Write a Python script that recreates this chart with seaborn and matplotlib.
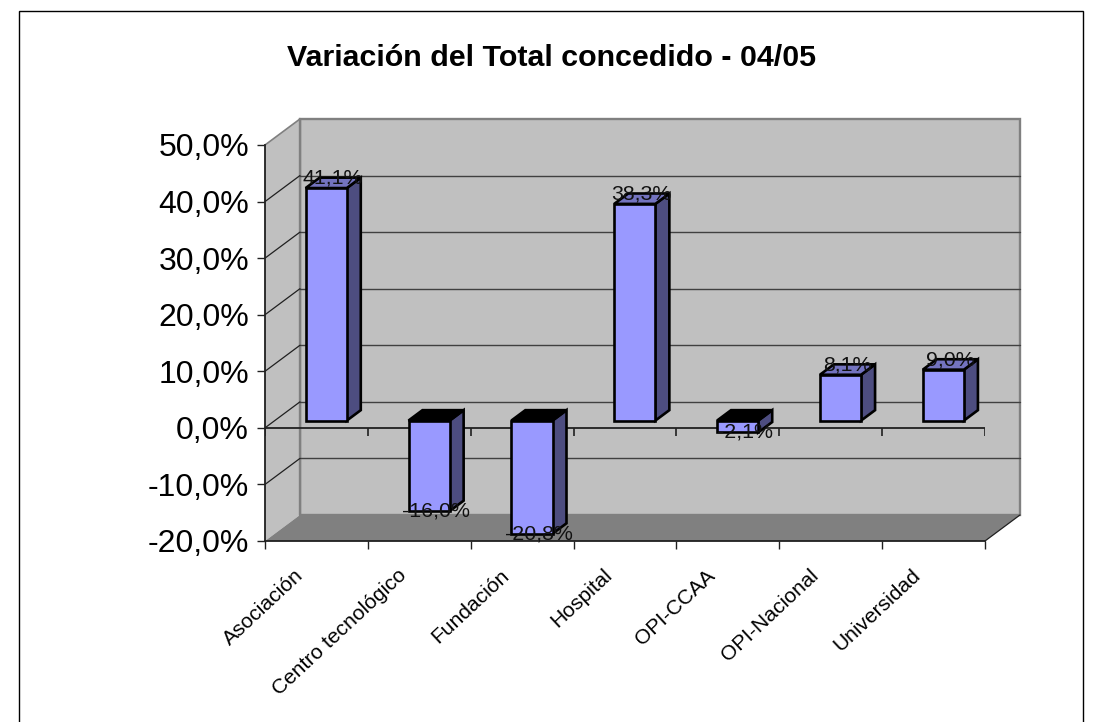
# Import libraries
import matplotlib
matplotlib.use('Agg')
import matplotlib.pyplot as plt
from matplotlib.patches import Polygon, Rectangle
from matplotlib.ticker import FixedLocator
from matplotlib.transforms import Affine2D
import numpy as np
import seaborn as sns

# Define data
categories = ['Asociación', 'Centro tecnológico', 'Fundación', 'Hospital',
              'OPI-CCAA', 'OPI-Nacional', 'Universidad']
values = [41.1, -16.0, -20.8, 38.3, -2.1, 8.1, 9.0]
y_ticks = [-20, -10, 0, 10, 20, 30, 40, 50]
title = 'Variación del Total concedido - 04/05'

# Fake 3D depth in data units
depth_x = 0.34
depth_y = 4.6
bar_front = 0.28
bar_back = 0.68

sns.set_theme(style='white')
plt.rcParams['font.family'] = ['Liberation Sans', 'DejaVu Sans']

fig = plt.figure(figsize=(11.04, 7.22), dpi=100)
ax = fig.add_axes([265 / 1104, (722 - 541) / 722, 720 / 1104, 396 / 722])
ax.patch.set_visible(False)


def proj(x, y, d):
    return (x + depth_x * d, y + depth_y * d)


def face(points, d_values, **kw):
    verts = [proj(x, y, d) for (x, y), d in zip(points, d_values)]
    ax.add_patch(Polygon(verts, closed=True, clip_on=False, **kw))


# Bars are clipped at the axis minimum, labels keep the real value
plot_values = np.clip(values, y_ticks[0], y_ticks[-1])
sns.barplot(x=categories, y=plot_values, ax=ax, width=0.40, color='#9999FF',
            saturation=1, edgecolor='black', linewidth=1.9, zorder=5)

x0, x1 = -0.5, 6.5
y0, y1 = y_ticks[0], y_ticks[-1]
ax.set_xlim(x0, x1)
ax.set_ylim(y0, y1)

# Walls and floor
face([(x0, y0), (x1, y0), (x1, y1), (x0, y1)], [1, 1, 1, 1],
     facecolor='#C0C0C0', edgecolor='#808080', linewidth=1.7, zorder=1)
face([(x0, y0), (x0, y0), (x0, y1), (x0, y1)], [0, 1, 1, 0],
     facecolor='#C0C0C0', edgecolor='none', zorder=1)
face([(x0, y0), (x0, y0), (x1, y0), (x1, y0)], [0, 1, 1, 0],
     facecolor='#808080', edgecolor='none', zorder=2)
ax.plot(*zip(proj(x0, y1, 0), proj(x0, y1, 1)), color='#808080', lw=1.2,
        zorder=2, clip_on=False)
ax.plot(*zip(proj(x0, y0, 1), proj(x0, y1, 1)), color='#808080', lw=1.7,
        zorder=2, clip_on=False)
ax.plot(*zip(proj(x1, y0, 0), proj(x1, y0, 1)), color='#202020', lw=0.9,
        zorder=2, clip_on=False)

# Gridlines on the back and side walls
for t in y_ticks[1:-1]:
    ax.plot(*zip(proj(x0, t, 1), proj(x1, t, 1)), color='#404040', lw=1.0,
            zorder=2, clip_on=False)
    ax.plot(*zip(proj(x0, t, 0), proj(x0, t, 1)), color='#202020', lw=0.9,
            zorder=2, clip_on=False)

# Zero line and its ticks
ax.axhline(0, color='#202020', lw=1.3, zorder=3)
ax.vlines(np.arange(x0, x1 + 1), -1.4, 0, color='#202020', lw=1.2, zorder=3)

# Move the seaborn bars back into the chart and give them depth
for bar, val in zip(ax.patches[:len(values)], plot_values):
    bar.set_x(proj(bar.get_x(), 0, bar_front)[0])
    bar.set_y(proj(0, 0, bar_front)[1])
    left = bar.get_x() - depth_x * bar_front
    right = left + bar.get_width()
    base = 0
    side_pts = [(right, base), (right, val), (right, val), (right, base)]
    face(side_pts, [bar_front, bar_front, bar_back, bar_back],
         facecolor='#4D4D80', edgecolor='black', linewidth=1.9, zorder=4)
    top_y = max(val, 0)
    top_pts = [(left, top_y), (right, top_y), (right, top_y), (left, top_y)]
    face(top_pts, [bar_front, bar_front, bar_back, bar_back],
         facecolor='#7373BF' if val > 0 else 'black', edgecolor='black',
         linewidth=1.9, zorder=4)

# Data labels
for i, (val, clipped) in enumerate(zip(values, plot_values)):
    bx, by = proj(i, clipped, bar_front)
    off_y = 10 if val > 0 else 0
    ax.annotate(f'{val:.1f}%'.replace('.', ','), xy=(bx, by),
                xytext=(5, off_y * 0.72), textcoords='offset points',
                ha='center', va='center', fontsize=15.4, color='#111111',
                zorder=8, annotation_clip=False)

# Axes
sns.despine(ax=ax)
for side in ['left', 'bottom']:
    ax.spines[side].set_color('#202020')
    ax.spines[side].set_linewidth(1.3)
    ax.spines[side].set_zorder(6)
ax.set_yticks(y_ticks)
ax.set_yticklabels([f'{t:.1f}%'.replace('.', ',') for t in y_ticks], fontsize=23, color='black')
ax.tick_params(axis='y', left=True, length=6, width=1, color='#202020', pad=5.5)
ax.set_xticks(range(len(categories)))
ax.set_xticklabels(categories, rotation=43, ha='right', va='top',
                   rotation_mode='anchor', fontsize=15.1, color='black')
ax.tick_params(axis='x', which='major', bottom=False, length=0, pad=17)
ax.xaxis.set_minor_locator(FixedLocator(np.arange(x0, x1 + 1)))
ax.tick_params(axis='x', which='minor', bottom=True, length=6, width=1, color='#202020')
ax.set_xlabel('')
ax.set_ylabel('')

# Shift the slanted labels left so they end before the category centre
for lab in ax.get_xticklabels():
    lab.set_transform(lab.get_transform() + Affine2D().translate(-22, -1))

# Title and outer frame
fig.text(552 / 1104, 1 - 58 / 722, title, ha='center', va='center',
         fontsize=21.9, fontweight='bold', color='black')
fig.patches.append(Rectangle((19 / 1104, -0.02), 1064 / 1104, 1 - 11 / 722 + 0.02,
                             transform=fig.transFigure, facecolor='none',
                             edgecolor='black', linewidth=1.0))

fig.savefig('out.png', dpi=100)
